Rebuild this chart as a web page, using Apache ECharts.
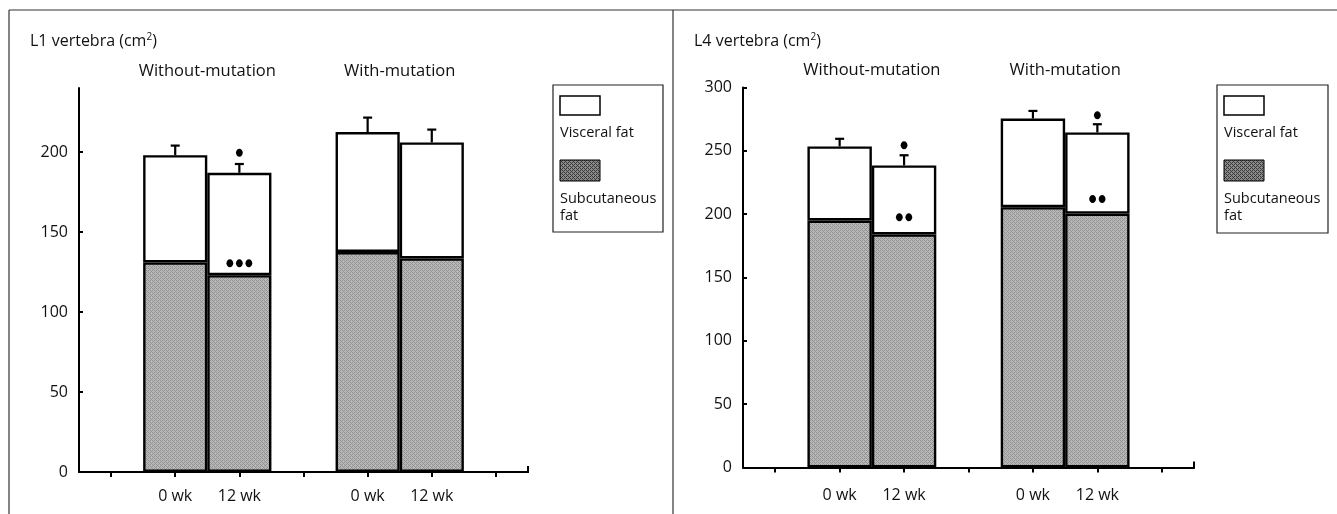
<!DOCTYPE html>
<html>
<head>
<meta charset="utf-8">
<script src="https://cdn.jsdelivr.net/npm/echarts@6/dist/echarts.min.js"></script>
<style>
html,body{margin:0;padding:0;background:#fff;}
#c{width:1337px;height:514px;}
</style>
</head>
<body>
<div id="c"></div>
<script>
// ---- data ----
var categories = ['', '0 wk', '12 wk', '', '0 wk', '12 wk', ''];
var barSlots = [1, 2, 4, 5];            // category index of each bar
var groupNames = ['Without-mutation', 'With-mutation'];
var groupSlots = [[1, 2], [4, 5]];

// L1 vertebra
var l1Total = [198, 187, 212.5, 206];
var l1Subcut = [131, 123, 137.5, 133.5];
var l1Err = [6, 5.5, 9, 8];
var l1Marks = [[2, 199.5, 1], [2, 130.5, 3]];   // [slot, y value, number of dots]
var l1Ticks = [0, 50, 100, 150, 200];

// L4 vertebra
var l4Total = [253.5, 238.5, 275.5, 264.5];
var l4Subcut = [195, 184, 205.5, 200.5];
var l4Err = [6, 8, 6, 6.5];
var l4Marks = [[2, 254.5, 1], [2, 197.5, 2], [5, 278, 1], [5, 212, 2]];
var l4Ticks = [0, 50, 100, 150, 200, 250, 300];

var FONT = 'Open Sans';

// halftone-like fill patterns (style only)
function makePattern(a, b) {
  var cv = document.createElement('canvas');
  cv.width = 4; cv.height = 4;
  var g = cv.getContext('2d');
  var m = [[0, 1, 0, 1], [1, 0, 1, 1], [0, 1, 0, 1], [1, 1, 1, 0]];
  for (var y = 0; y < 4; y++) for (var x = 0; x < 4; x++) {
    g.fillStyle = m[y][x] ? a : b;
    g.fillRect(x, y, 1, 1);
  }
  return cv;
}
var barPattern = { image: makePattern('#b8b8b8', '#929292'), repeat: 'repeat' };
var legendPattern = { image: makePattern('#8a8a8a', '#3a3a3a'), repeat: 'repeat' };

function slotArray(vals) {
  var arr = categories.map(function () { return null; });
  barSlots.forEach(function (s, i) { arr[s] = vals[i]; });
  return arr;
}

function panelSeries(idx, total, subcut, err, marks, yMax) {
  var visceral = total.map(function (t, i) { return +(t - subcut[i]).toFixed(2); });
  var errData = barSlots.map(function (s, i) { return [s, total[i], total[i] + err[i]]; });
  var grpData = groupSlots.map(function (g, i) { return [g[0], g[1], groupNames[i]]; });
  return [
    {
      type: 'bar', name: 'Subcutaneous fat', stack: 's' + idx,
      xAxisIndex: idx, yAxisIndex: idx, barWidth: '100%',
      data: slotArray(subcut),
      itemStyle: { color: barPattern, borderColor: '#000', borderWidth: 2.4 },
      silent: true
    },
    {
      type: 'bar', name: 'Visceral fat', stack: 's' + idx,
      xAxisIndex: idx, yAxisIndex: idx, barWidth: '100%',
      data: slotArray(visceral),
      itemStyle: { color: '#fff', borderColor: '#000', borderWidth: 2.4 },
      silent: true
    },
    {
      type: 'custom', xAxisIndex: idx, yAxisIndex: idx, silent: true, z: 5,
      data: errData,
      renderItem: function (params, api) {
        var p0 = api.coord([api.value(0), api.value(1)]);
        var p1 = api.coord([api.value(0), api.value(2)]);
        var st = { stroke: '#000', lineWidth: 2.2 };
        return { type: 'group', children: [
          { type: 'line', shape: { x1: p0[0], y1: p0[1], x2: p1[0], y2: p1[1] }, style: st },
          { type: 'line', shape: { x1: p1[0] - 4.5, y1: p1[1], x2: p1[0] + 4.5, y2: p1[1] }, style: st }
        ] };
      }
    },
    {
      type: 'custom', xAxisIndex: idx, yAxisIndex: idx, silent: true, z: 6,
      data: marks,
      renderItem: function (params, api) {
        var p = api.coord([api.value(0), api.value(1)]);
        var n = api.value(2), gap = 9.5, kids = [];
        for (var k = 0; k < n; k++) {
          kids.push({ type: 'ellipse', shape: { cx: p[0] + (k - (n - 1) / 2) * gap, cy: p[1], rx: 3.4, ry: 4 },
            style: { fill: '#000' } });
        }
        return { type: 'group', children: kids };
      }
    },
    {
      type: 'custom', xAxisIndex: idx, yAxisIndex: idx, silent: true, clip: false,
      data: grpData,
      renderItem: function (params, api) {
        var a = api.coord([api.value(0), yMax]);
        var b = api.coord([api.value(1), yMax]);
        var kids = [{ type: 'text', x: (a[0] + b[0]) / 2, y: a[1] - 17, style: {
          text: grpData[params.dataIndex][2], fill: '#111', font: '16.5px ' + FONT,
          align: 'center', verticalAlign: 'middle' } }];
        if (params.dataIndex === 0) {
          // small upward end mark at the right end of the x axis
          var e = api.coord([categories.length - 1, 0]);
          var bw = api.size([1, 0])[0];
          kids.push({ type: 'line', shape: { x1: e[0] + bw / 2, y1: e[1] + 1, x2: e[0] + bw / 2, y2: e[1] - 6 },
            style: { stroke: '#000', lineWidth: 2 } });
        }
        return { type: 'group', children: kids };
      }
    }
  ];
}

function xAxisCfg(idx, margin) {
  return {
    type: 'category', gridIndex: idx, data: categories, boundaryGap: true,
    axisLine: { show: true, lineStyle: { color: '#000', width: 2 } },
    axisTick: { show: true, alignWithLabel: true, length: 5, lineStyle: { color: '#000', width: 2 } },
    axisLabel: { color: '#111', fontSize: 16, fontFamily: FONT, margin: margin, interval: 0 },
    splitLine: { show: false }
  };
}
function yAxisCfg(idx, max, ticks) {
  return {
    type: 'value', gridIndex: idx, min: 0, max: max, interval: 50,
    axisLine: { show: true, lineStyle: { color: '#000', width: 2 } },
    axisTick: { show: true, inside: true, length: 4, lineStyle: { color: '#000', width: 2 }, customValues: ticks },
    axisLabel: { color: '#111', fontSize: 16, fontFamily: FONT, margin: 11, customValues: ticks },
    splitLine: { show: false }
  };
}

function legendBox(x0, y0, w, h) {
  var st = { stroke: '#222', lineWidth: 1.2, fill: '#fff' };
  var f = '14.5px ' + FONT;
  return [
    { type: 'rect', shape: { x: x0, y: y0, width: w, height: h }, style: st, silent: true },
    { type: 'rect', shape: { x: x0 + 7, y: y0 + 11, width: 40, height: 19 }, style: { fill: '#fff', stroke: '#000', lineWidth: 1.5 }, silent: true },
    { type: 'text', x: x0 + 7, y: y0 + 48, style: { text: 'Visceral fat', font: f, fill: '#111', verticalAlign: 'middle' }, silent: true },
    { type: 'rect', shape: { x: x0 + 7, y: y0 + 75, width: 40, height: 21 }, style: { fill: legendPattern, stroke: '#000', lineWidth: 1 }, silent: true },
    { type: 'text', x: x0 + 7, y: y0 + 114, style: { text: 'Subcutaneous', font: f, fill: '#111', verticalAlign: 'middle' }, silent: true },
    { type: 'text', x: x0 + 7, y: y0 + 131, style: { text: 'fat', font: f, fill: '#111', verticalAlign: 'middle' }, silent: true }
  ];
}

var frameStyle = { stroke: '#333', lineWidth: 1.2 };
var graphics = [
  { type: 'line', shape: { x1: 9, y1: 10, x2: 1337, y2: 10 }, style: frameStyle, silent: true },
  { type: 'line', shape: { x1: 9, y1: 10, x2: 9, y2: 514 }, style: frameStyle, silent: true },
  { type: 'line', shape: { x1: 673, y1: 10, x2: 673, y2: 514 }, style: frameStyle, silent: true }
].concat(legendBox(553, 85, 110, 147)).concat(legendBox(1217, 85, 111, 148));

var titleRich = { sup: { fontSize: 10, verticalAlign: 'top', padding: [0, 0, 9, 0], fontFamily: FONT, color: '#111' } };

var option = {
  backgroundColor: '#fff',
  animation: false,
  textStyle: { fontFamily: FONT },
  title: [
    { text: 'L1 vertebra (cm{sup|2})', left: 25, top: 27, textStyle: { fontSize: 16, fontWeight: 'normal', color: '#111', fontFamily: FONT, rich: titleRich } },
    { text: 'L4 vertebra (cm{sup|2})', left: 689, top: 27, textStyle: { fontSize: 16, fontWeight: 'normal', color: '#111', fontFamily: FONT, rich: titleRich } }
  ],
  grid: [
    { left: 79, top: 88, width: 449, height: 384 },
    { left: 743, top: 87.5, width: 451, height: 380 }
  ],
  xAxis: [xAxisCfg(0, 16), xAxisCfg(1, 20)],
  yAxis: [yAxisCfg(0, 240, l1Ticks), yAxisCfg(1, 300, l4Ticks)],
  series: panelSeries(0, l1Total, l1Subcut, l1Err, l1Marks, 240)
    .concat(panelSeries(1, l4Total, l4Subcut, l4Err, l4Marks, 300)),
  graphic: graphics
};

var chart = echarts.init(document.getElementById('c'), null, { renderer: 'canvas' });
chart.setOption(option);
</script>
</body>
</html>
